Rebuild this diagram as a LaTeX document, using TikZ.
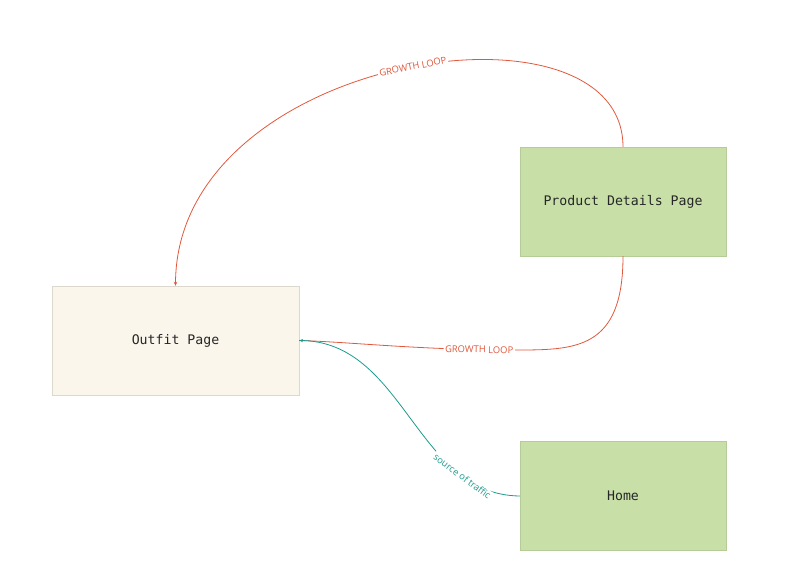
\documentclass[tikz,border=0pt]{standalone}
\usepackage{fontspec}
\setmainfont{Open Sans}
\setmonofont{DejaVu Sans Mono}
\usetikzlibrary{arrows.meta}
\definecolor{loopred}{HTML}{E0583C}
\definecolor{trafficteal}{HTML}{1E9A8C}
\definecolor{pagegreen}{HTML}{C8E0A8}
\definecolor{pagegreenline}{HTML}{B4CC98}
\definecolor{pagebeige}{HTML}{FAF6EC}
\definecolor{pagebeigeline}{HTML}{DCD8CE}
\tikzset{
  page/.style={draw,minimum width=#1,inner sep=0,text=black!85,font=\ttfamily\fontsize{13.2}{15}\selectfont},
  greenpage/.style={page=206pt,fill=pagegreen,draw=pagegreenline,minimum height=109pt},
  beigepage/.style={page=247pt,fill=pagebeige,draw=pagebeigeline,minimum height=109pt},
  looplink/.style={draw=loopred,line width=0.8pt,-{Stealth[length=4pt,width=3.5pt]}},
  edgelabel/.style={fill=white,inner sep=1.5pt,font=\fontsize{9.4}{11}\selectfont}
}
\begin{document}
\begin{tikzpicture}[x=1pt,y=-1pt]
  \useasboundingbox (0,0) rectangle (790,586);
  % pages
  \node[beigepage] (outfit) at (175.5,340.5) {Outfit Page};
  \node[greenpage] (pdp) at (623,201.5) {Product Details Page};
  \node[greenpage] (home) at (623,496) {Home};
  % growth loops
  \draw[looplink] (pdp.north) .. controls (623,-12) and (176,53) .. (outfit.north)
    node[pos=0.48,sloped,edgelabel,text=loopred] {GROWTH LOOP};
  \draw[looplink] (pdp.south) .. controls (623,350) and (575,350) .. (515,350)
    .. controls (420,350) and (350,342) .. (outfit.east)
    node[pos=0.13,sloped,edgelabel,text=loopred] {GROWTH LOOP};
  % traffic into outfit page
  \draw[draw=trafficteal,line width=0.8pt] (home.west) .. controls (415,495) and (405,340) .. (outfit.east)
    node[pos=0.22,sloped,edgelabel,text=trafficteal] {source of traffic};
\end{tikzpicture}
\end{document}
